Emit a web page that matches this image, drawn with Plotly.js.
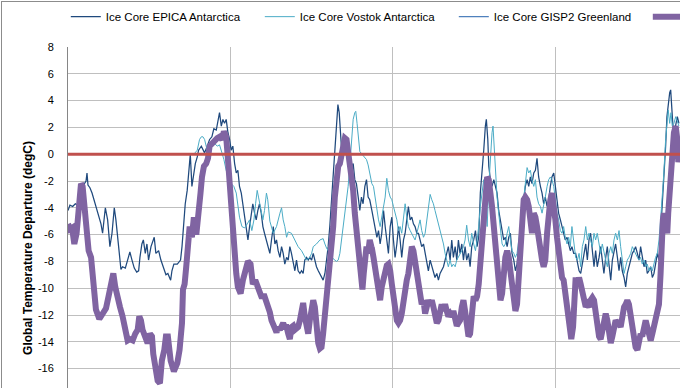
<!DOCTYPE html>
<html>
<head>
<meta charset="utf-8">
<script src="https://cdn.plot.ly/plotly-3.0.1.min.js"></script>
<style>
html,body{margin:0;padding:0;background:#fff;overflow:hidden;}
#wrap{position:relative;width:680px;height:388px;overflow:hidden;background:#fff;}
#chart{position:absolute;left:0;top:0;width:900px;height:480px;}
#frame{position:absolute;left:1px;top:1px;width:1000px;height:1000px;border-left:1px solid #8c8c8c;border-top:1px solid #8c8c8c;pointer-events:none;}
</style>
</head>
<body>
<div id="wrap"><div id="chart"></div><div id="frame"></div></div>
<script>
// Ages in thousand years (negative = before present), temperatures in degC departure
var epicaAge = [
-500.0,-498.8,-497.1,-495.5,-494.1,-492.6,-491.0,-489.9,-488.9,-488.3,-487.7,-486.5,-485.2,-484.0,-482.8,-481.1,-479.7,-478.7,-477.8,-477.0,-475.6,-474.2,-472.9,-471.5,-470.5,-469.4,-468.4,-467.4,-466.4,-464.7,-463.3,-461.9,-460.6,-459.2,-457.7,-456.5,-455.7,-454.5,-453.6,-452.4,-451.4,-450.4,-448.9,-447.5,-446.9,-445.9,-444.2,-442.8,-441.3,-439.7,
-438.5,-436.8,-436.0,-434.8,-432.7,-430.7,-429.8,-428.8,-427.8,-426.6,-425.7,-424.7,-423.7,-422.5,-421.6,-420.4,-419.6,-417.9,-416.9,-415.9,-414.3,-412.8,-411.4,-410.2,-408.7,-407.7,-406.7,-405.6,-404.6,-403.6,-402.6,-401.5,-400.5,-399.5,-398.5,-397.4,-396.4,-395.4,-394.4,-393.3,-392.3,-391.3,-390.3,-389.2,-388.2,-387.2,-386.2,-385.1,-384.1,-383.1,-382.1,-381.0,-380.0,-379.0,-378.0,-377.0,
-375.7,-374.7,-373.6,-372.6,-371.6,-370.6,-369.5,-368.5,-367.5,-366.5,-365.4,-364.4,-363.4,-362.4,-361.3,-360.3,-359.3,-358.3,-357.2,-356.2,-355.2,-354.2,-353.1,-352.1,-351.1,-350.0,-349.0,-348.0,-347.0,-345.9,-344.9,-343.9,-342.9,-341.8,-340.8,-339.8,-338.8,-337.7,-336.7,-335.7,-334.7,-333.8,-333.0,-332.2,-331.4,-330.6,-329.5,-328.5,-327.5,-326.5,-325.4,-324.4,-323.4,-322.4,-321.3,-320.3,-319.3,-318.3,-317.2,-316.2,-315.2,-314.2,
-312.9,-311.9,-310.9,-309.8,-308.8,-307.8,-306.8,-305.7,-304.7,-303.7,-302.7,-301.6,-300.6,-299.6,-298.6,-297.5,-296.5,-295.5,-294.5,-293.4,-292.4,-291.4,-290.4,-289.3,-288.3,-287.3,-286.3,-285.2,-284.2,-283.2,-282.2,-281.1,-280.1,-279.1,-278.1,-277.0,-276.0,-275.0,-274.0,-272.9,-271.9,-270.9,-269.9,-268.8,-267.8,-266.8,-265.8,-264.7,-263.7,-262.7,-261.6,-260.6,-259.6,-258.6,-257.5,-256.5,-255.5,-254.5,-253.4,-252.4,-251.4,
-250.2,-249.1,-248.1,-247.1,-246.1,-245.0,-244.0,-243.0,-242.4,-241.5,-240.9,-239.9,-238.9,-237.8,-236.8,-235.8,-234.8,-233.7,-232.7,-231.7,-230.7,-229.6,-228.6,-227.6,-226.6,-225.5,-224.5,-223.5,-222.5,-221.4,-220.4,-219.4,-218.4,-217.3,-216.3,-215.3,-214.3,-213.2,-212.2,-211.2,-210.2,-209.1,-208.1,-207.1,-206.1,-205.0,-204.0,-203.0,-202.0,-200.9,-199.9,-198.9,-197.9,-196.8,-195.8,-194.8,-193.8,-192.7,-191.7,-190.7,-189.7,-188.6,
-187.4,-186.3,-185.3,-184.3,-183.3,-182.3,-181.2,-180.2,-179.2,-178.2,-177.1,-176.1,-175.1,-174.1,-173.0,-172.0,-171.0,-170.0,-168.9,-167.9,-166.9,-165.8,-164.8,-163.8,-162.8,-161.7,-160.7,-159.7,-158.7,-157.6,-156.6,-155.6,-154.6,-153.5,-152.5,-151.5,-150.5,-149.4,-148.4,-147.4,-146.4,-145.3,-144.3,-143.3,-142.3,-141.2,-140.2,-139.2,-138.2,-137.1,-136.1,-135.1,
-134.5,-133.7,-132.8,-132.0,-131.2,-130.4,-129.5,-128.9,-128.3,-127.5,-126.7,-125.8,-124.8,-123.8
];
var epicaTemp = [
-4.2,-3.8,-3.9,-3.7,-3.8,-3.6,-3.2,-2.2,-2.0,-1.4,-2.3,-2.5,-2.9,-3.4,-3.9,-4.7,-5.2,-5.9,-5.0,-4.0,-4.9,-6.9,-5.9,-4.0,-4.9,-6.4,-7.4,-8.6,-8.4,-8.5,-7.9,-7.3,-7.9,-8.5,-8.8,-8.7,-7.7,-6.7,-6.4,-7.4,-6.7,-7.9,-6.9,-6.4,-6.2,-7.4,-7.2,-7.9,-8.4,-9.0,
-8.9,-9.4,-8.7,-8.2,-8.2,-7.9,-6.9,-5.4,-3.7,-2.7,-1.4,0.0,-2.4,-1.4,-0.7,-0.2,0.3,0.6,0.3,0.1,0.6,1.1,1.3,1.9,1.8,2.6,3.1,2.1,2.6,2.3,2.6,1.6,1.1,0.3,0.6,-0.7,-1.4,-1.2,-2.4,-2.9,-3.7,-4.7,-5.2,-6.4,-5.4,-4.7,-3.7,-4.4,-4.9,-4.2,-3.7,-4.4,-5.4,-5.9,-6.4,-6.9,
-7.4,-6.4,-5.4,-6.7,-6.4,-7.2,-7.7,-6.9,-7.4,-8.2,-7.7,-7.9,-6.9,-7.4,-8.2,-8.7,-7.9,-8.7,-8.9,-8.7,-8.9,-7.9,-7.7,-7.9,-7.7,-7.9,-7.4,-7.9,-8.4,-8.7,-8.9,-9.2,-9.4,-8.9,-7.9,-6.9,-5.4,-3.4,-1.9,0.1,2.1,3.7,3.1,1.1,0.1,0.6,0.3,1.1,0.3,-0.4,-0.9,-0.7,-1.9,-2.2,-3.2,-4.2,-3.2,-3.7,-2.4,-1.9,-3.2,-3.4,
-4.2,-4.9,-5.4,-6.2,-5.7,-6.7,-5.9,-4.2,-5.4,-6.4,-7.4,-5.4,-4.7,-6.4,-7.7,-6.7,-5.4,-6.4,-7.7,-6.4,-5.9,-4.9,-3.9,-4.9,-4.7,-5.2,-5.4,-5.9,-5.9,-6.4,-6.9,-6.7,-7.4,-7.9,-8.7,-7.9,-8.4,-8.9,-9.2,-8.9,-9.4,-8.9,-8.7,-8.4,-7.9,-7.4,-6.9,-7.9,-6.4,-7.7,-6.9,-7.9,-6.4,-7.4,-6.7,-7.9,-6.9,-7.9,-7.4,-8.4,-6.9,
-6.4,-5.7,-6.9,-6.2,-2.9,-1.4,0.3,2.1,2.6,1.1,-0.9,-1.9,-2.4,-1.9,-2.4,-2.9,-4.2,-4.9,-5.7,-6.4,-6.2,-6.9,-6.2,-5.9,-7.4,-7.9,-8.7,-8.2,-6.9,-5.9,-4.9,-3.4,-2.4,-1.9,-2.4,-1.7,-2.2,-1.4,-1.2,-0.3,-1.7,-2.4,-2.9,-3.7,-3.2,-3.9,-3.4,-2.4,-1.7,-1.4,-2.4,-3.4,-4.4,-4.9,-5.4,-5.9,-6.4,-6.2,-6.7,-7.2,-6.9,-7.4,
-7.4,-8.2,-8.7,-8.9,-8.2,-7.4,-6.7,-7.9,-6.4,-5.9,-7.4,-8.4,-7.2,-8.4,-7.7,-6.9,-7.9,-8.9,-7.7,-6.9,-8.2,-9.4,-7.9,-7.4,-6.7,-7.7,-8.7,-7.7,-8.7,-9.2,-9.9,-8.9,-8.4,-7.7,-7.4,-7.2,-6.9,-7.4,-7.9,-6.9,-7.7,-8.4,-7.9,-8.9,-8.7,-8.4,-9.2,-8.9,-8.2,-7.4,-7.9,-5.9,
-4.4,-2.9,-1.4,0.6,2.8,3.8,4.6,4.8,3.6,2.1,1.6,2.3,2.8,2.3
];

var vostokAge = [
-422.5,-420.4,-419.0,-417.9,-416.9,-415.9,-414.3,-412.8,-411.4,-409.7,-408.1,-406.7,-405.2,-404.0,-402.6,-401.1,-399.5,-397.9,-396.4,-395.4,-394.4,-392.9,-391.3,-389.6,-388.2,-386.8,-385.5,-384.5,-383.5,-382.7,-381.4,-380.0,-379.0,-377.8,-377.0,
-375.7,-373.6,-371.6,-369.5,-368.5,-367.5,-366.5,-365.4,-364.4,-362.4,-360.3,-358.3,-356.2,-354.2,-353.1,-351.1,-350.0,-349.0,-347.0,-344.9,-342.9,-341.8,-340.8,-338.8,-336.7,-334.7,-333.6,-332.6,-331.6,-330.6,-329.5,-328.5,-327.5,-326.5,-325.4,-324.4,-323.4,-322.8,-322.0,-321.1,-320.3,-318.3,-316.2,-315.2,-314.2,
-312.9,-311.9,-310.9,-309.8,-308.8,-307.8,-306.8,-305.7,-304.7,-303.7,-302.7,-301.6,-300.6,-299.6,-298.6,-297.5,-296.5,-295.5,-294.5,-293.4,-292.4,-291.4,-290.4,-289.3,-288.3,-287.3,-286.3,-285.2,-284.2,-283.2,-282.2,-281.1,-280.1,-279.1,-278.1,-277.0,-276.0,-275.0,-274.0,-272.9,-271.9,-270.9,-269.9,-268.8,-267.8,-266.8,-265.8,-264.7,-263.7,-262.7,-261.6,-260.6,-259.6,-258.6,-257.5,-256.5,-255.5,-254.5,-253.4,-252.4,-251.4,
-250.2,-249.1,-248.1,-247.1,-246.1,-245.0,-244.0,-243.0,-241.9,-240.9,-239.9,-238.9,-238.3,-237.4,-236.8,-235.8,-234.8,-233.7,-232.7,-231.7,-230.7,-229.6,-228.6,-227.6,-226.6,-225.5,-224.5,-223.5,-222.5,-221.4,-220.4,-219.4,-218.4,-217.3,-216.3,-215.3,-214.3,-213.2,-212.2,-211.2,-210.2,-209.1,-208.1,-207.1,-206.1,-205.0,-204.0,-203.0,-202.0,-200.9,-199.9,-198.9,-197.9,-196.8,-195.8,-194.8,-193.8,-192.7,-191.7,-190.7,-189.7,-188.6,
-187.4,-186.3,-185.3,-184.3,-183.3,-182.3,-181.2,-180.2,-179.2,-178.2,-177.1,-176.1,-175.1,-174.1,-173.0,-172.0,-171.0,-170.0,-168.9,-167.9,-166.9,-165.8,-164.8,-163.8,-162.8,-161.7,-160.7,-159.7,-158.7,-157.6,-156.6,-155.6,-154.6,-153.5,-152.5,-151.5,-150.5,-149.4,-148.4,-147.4,-146.4,-145.3,-144.3,-143.3,-142.3,-141.2,-140.2,-139.2,-138.2,-137.1,-136.1,-135.1,
-134.1,-133.1,-132.0,-131.2,-130.4,-129.5,-128.7,-127.9,-126.9,-125.8,-124.8,-123.8
];
var vostokTemp = [
0.0,0.3,1.1,1.3,1.3,1.1,0.3,0.3,0.6,0.8,0.6,0.7,0.1,-0.4,-1.2,-1.9,-2.2,-2.4,-2.9,-3.7,-4.7,-5.4,-5.5,-5.2,-4.9,-5.7,-4.9,-3.7,-2.7,-3.2,-3.9,-4.9,-4.2,-2.9,-3.4,
-5.0,-5.9,-5.4,-4.4,-4.0,-4.9,-5.4,-6.2,-5.8,-5.9,-6.4,-6.9,-7.2,-7.7,-7.9,-7.7,-7.4,-6.9,-6.7,-6.4,-6.3,-6.7,-7.0,-7.4,-7.8,-8.0,-7.9,-7.4,-6.4,-5.4,-4.4,-3.4,-2.4,-0.9,1.1,2.6,3.1,3.2,2.3,0.8,0.2,-0.1,-0.4,-0.8,-1.4,
-2.2,-2.4,-3.2,-4.4,-4.9,-5.4,-4.7,-3.9,-3.2,-1.8,-2.7,-3.2,-3.4,-3.9,-4.4,-4.9,-5.7,-5.4,-5.9,-4.9,-3.7,-4.7,-5.4,-5.7,-5.9,-6.2,-6.4,-5.9,-5.4,-4.9,-5.7,-6.2,-5.9,-4.9,-3.9,-3.0,-3.4,-3.7,-4.2,-4.7,-5.2,-5.7,-6.2,-6.7,-7.4,-7.9,-8.4,-7.9,-8.4,-8.2,-8.4,-7.9,-7.7,-7.4,-7.2,-6.9,-6.4,-5.3,-6.4,-6.9,-5.9,
-6.7,-7.2,-6.4,-5.4,-3.9,-2.9,-1.9,-3.4,-5.4,-2.4,0.1,1.6,2.1,0.3,-1.4,-3.2,-4.4,-5.9,-6.7,-6.9,-6.7,-5.9,-5.4,-6.4,-7.2,-7.4,-7.7,-7.4,-6.2,-5.4,-4.4,-3.2,-1.9,-1.0,-1.4,-1.2,-1.9,-2.4,-1.9,-3.2,-3.7,-3.9,-4.4,-3.9,-3.2,-2.4,-1.9,-1.7,-1.9,-2.4,-3.4,-4.4,-4.9,-5.7,-5.9,-5.4,-6.2,-6.7,-6.2,-6.9,-5.4,-6.4,
-7.7,-7.9,-7.4,-8.4,-6.9,-6.4,-5.4,-6.4,-5.9,-6.4,-6.9,-5.9,-6.4,-5.9,-6.9,-7.4,-6.7,-7.4,-7.9,-8.4,-7.4,-6.9,-7.4,-6.4,-5.9,-6.4,-5.7,-6.9,-7.9,-8.9,-8.4,-7.9,-7.7,-7.4,-6.9,-7.2,-7.4,-7.7,-7.9,-7.7,-8.2,-7.9,-8.4,-8.2,-8.7,-8.4,-8.7,-8.2,-7.7,-7.4,-6.4,-4.9,
-3.4,-1.4,1.1,2.5,3.3,2.3,3.1,2.1,2.3,2.8,2.5,2.1
];

// Greenland record lies beyond the visible (cropped) part of the chart: no readable values
var gispAge = [null];
var gispTemp = [null];

var globalAge = [
-500.0,-498.8,-497.5,-496.1,-494.7,-493.4,-492.0,-491.0,-489.9,-488.5,-487.3,-485.8,-484.8,-483.8,-482.8,-480.7,-478.7,-476.6,-475.0,-473.5,-472.1,-470.9,-469.4,-468.0,-466.4,-464.7,-463.3,-461.9,-460.2,-458.6,-457.1,-456.1,-455.1,-454.1,-452.4,-451.0,-449.5,-448.3,-447.5,-446.3,-444.8,-443.4,-442.2,-440.7,-439.7,
-438.5,-436.8,-434.8,-432.7,-431.3,-429.8,-429.2,-428.2,-427.2,-426.2,-425.1,-423.7,-422.5,-421.0,-420.4,-419.6,-418.4,-417.5,-416.3,-414.9,-413.8,-412.8,-411.4,-409.7,-408.1,-406.7,-405.2,-404.0,-402.6,-401.5,-400.5,-399.5,-398.5,-397.4,-396.4,-395.4,-393.7,-392.3,-390.9,-389.2,-387.6,-386.2,-384.7,-383.1,-381.0,-379.0,-377.3,
-375.7,-374.7,-373.6,-372.6,-371.6,-370.6,-369.5,-368.5,-367.5,-366.5,-365.4,-364.4,-363.4,-362.4,-361.3,-360.3,-359.3,-358.3,-357.2,-356.2,-355.2,-354.2,-353.1,-352.1,-351.1,-350.0,-349.0,-348.0,-347.0,-345.9,-344.9,-343.9,-342.9,-341.8,-340.8,-339.8,-338.8,-337.7,-336.7,-335.7,-334.7,-333.6,-332.6,-331.6,-330.6,-329.5,-328.5,-327.5,-326.5,-325.4,-324.4,-323.4,-322.4,-321.3,-320.3,-319.3,-318.7,-317.9,-317.2,-316.2,-315.2,-314.2,-313.2,
-312.9,-311.9,-310.9,-309.8,-308.8,-307.8,-306.8,-305.7,-304.7,-303.7,-302.7,-301.6,-300.6,-299.6,-298.6,-297.5,-296.5,-295.5,-294.5,-293.4,-292.4,-291.4,-290.4,-289.3,-288.3,-287.3,-286.3,-285.2,-284.2,-283.2,-282.2,-281.1,-280.1,-279.1,-278.1,-277.0,-276.0,-275.0,-274.0,-272.9,-271.9,-270.9,-269.9,-268.8,-267.8,-266.8,-265.8,-264.7,-263.7,-262.7,-261.6,-260.6,-259.6,-258.6,-257.5,-256.5,-255.5,-254.5,-253.4,-252.4,-251.4,-250.4,
-250.2,-249.1,-248.1,-247.1,-246.1,-245.0,-244.0,-243.0,-241.9,-240.9,-239.9,-238.9,-237.8,-236.8,-235.8,-234.8,-233.7,-232.7,-231.7,-230.7,-229.6,-228.6,-227.6,-226.6,-225.5,-224.5,-223.5,-222.5,-221.4,-220.4,-219.4,-218.4,-217.3,-216.3,-215.3,-214.3,-213.2,-212.2,-211.2,-210.2,-209.1,-208.1,-207.1,-206.1,-205.0,-204.0,-203.0,-202.0,-200.9,-199.9,-198.9,-197.9,-196.8,-195.8,-194.8,-193.8,-192.7,-191.7,-190.7,-190.1,-189.0,-188.2,
-187.4,-186.3,-185.3,-184.3,-183.3,-182.3,-181.2,-180.2,-179.2,-178.2,-177.1,-176.1,-175.1,-174.1,-173.0,-172.0,-171.0,-170.0,-168.9,-167.9,-166.9,-165.8,-164.8,-163.8,-162.8,-161.7,-160.7,-159.7,-158.7,-157.6,-156.6,-155.6,-154.6,-153.5,-152.5,-151.5,-150.5,-149.4,-148.4,-147.4,-146.4,-145.3,-144.3,-143.3,-142.3,-141.2,-140.2,-139.2,-138.2,-137.1,-136.1,-135.1,
-134.5,-133.7,-133.1,-132.0,-131.0,-130.4,-129.5,-128.7,-127.9,-126.9,-125.8,-124.8,-124.2,-123.4
];
var globalTemp = [
-5.2,-5.6,-5.5,-6.7,-5.9,-3.9,-2.2,-2.4,-3.9,-5.4,-7.2,-7.7,-8.9,-10.4,-11.6,-12.3,-11.9,-11.5,-10.6,-9.4,-8.9,-9.9,-10.9,-11.4,-12.1,-13.1,-13.9,-13.8,-13.9,-13.4,-13.1,-12.1,-12.4,-13.1,-13.6,-14.1,-13.4,-13.6,-14.9,-15.9,-16.9,-17.1,-15.4,-14.6,-13.6,
-13.6,-15.4,-16.2,-15.6,-14.6,-12.6,-10.1,-9.7,-8.4,-6.2,-5.4,-6.2,-4.7,-6.0,-4.9,-3.7,-2.9,-1.7,-0.9,-0.7,-0.3,0.6,0.8,1.1,1.2,1.3,1.1,1.7,1.3,-0.4,-2.2,-4.2,-6.2,-7.7,-8.9,-9.9,-10.4,-9.4,-8.7,-8.0,-8.2,-9.7,-9.4,-10.1,-10.6,-10.6,-11.1,
-11.8,-12.4,-12.9,-13.0,-13.3,-12.9,-13.1,-12.9,-12.6,-12.9,-12.9,-13.4,-13.8,-12.9,-12.8,-13.1,-13.0,-12.9,-12.4,-11.9,-11.1,-12.1,-12.9,-13.4,-12.4,-11.4,-10.9,-11.4,-12.9,-14.1,-14.5,-14.4,-13.4,-11.9,-10.6,-9.4,-8.7,-7.4,-5.4,-3.2,-1.4,-0.9,-0.7,0.1,0.8,1.2,1.1,0.3,-0.4,-1.4,-2.7,-4.4,-5.9,-6.9,-7.9,-9.7,-10.1,-8.9,-7.4,-6.9,-7.4,-6.4,-6.9,
-7.0,-7.7,-8.7,-9.7,-10.4,-10.9,-9.9,-9.2,-8.7,-8.3,-8.2,-8.7,-9.7,-10.7,-11.4,-12.4,-12.6,-12.4,-11.9,-10.9,-9.7,-9.4,-8.9,-7.7,-6.9,-7.2,-7.9,-8.9,-9.9,-10.7,-11.2,-10.9,-11.9,-11.4,-10.9,-11.2,-10.9,-11.4,-12.1,-12.6,-12.4,-11.9,-11.2,-11.7,-11.2,-11.7,-12.1,-11.9,-12.1,-11.7,-12.4,-12.8,-12.6,-12.4,-11.4,-10.9,-11.7,-12.6,-13.6,-13.4,-11.9,-10.7,
-10.6,-10.9,-10.6,-9.7,-7.9,-5.9,-3.9,-2.4,-1.7,-1.9,-2.7,-3.9,-5.4,-6.9,-8.9,-10.4,-10.9,-10.4,-8.9,-7.7,-7.2,-7.7,-8.7,-9.9,-11.2,-11.7,-11.2,-9.4,-6.9,-4.9,-3.4,-3.2,-3.4,-3.9,-5.7,-5.9,-4.4,-4.7,-5.4,-6.4,-7.2,-7.9,-8.4,-7.9,-5.9,-4.4,-3.4,-2.9,-3.7,-4.9,-6.2,-7.4,-8.4,-9.2,-9.4,-10.2,-11.4,-12.4,-13.4,-13.8,-12.9,-10.9,
-9.2,-9.9,-9.2,-9.7,-10.4,-10.9,-11.4,-11.2,-11.4,-10.9,-10.7,-10.9,-11.9,-12.9,-13.6,-13.8,-13.1,-12.4,-11.9,-12.4,-13.4,-14.1,-13.6,-12.9,-12.4,-12.6,-12.6,-12.9,-12.1,-11.4,-11.2,-10.9,-11.2,-12.1,-13.1,-13.9,-14.4,-14.6,-13.9,-13.4,-13.6,-13.1,-12.4,-12.9,-13.6,-13.9,-13.4,-12.9,-12.4,-11.9,-11.2,-8.9,
-6.4,-4.9,-4.4,-5.4,-5.9,-4.4,-2.7,-0.9,0.6,1.6,2.1,1.1,-0.6,0.1
];

var seriesNames = ['Ice Core EPICA Antarctica', 'Ice Core Vostok Antarctica', 'Ice Core GISP2 Greenland', 'Global Average Estimate'];
var yTickVals = [-22,-20,-18,-16,-14,-12,-10,-8,-6,-4,-2,0,2,4,6,8];
var yTickText = ['','','','-16','-14','-12','-10','-8','-6','-4','-2','0','2','4','6','8'];

var traces = [
  {x: epicaAge, y: epicaTemp, name: seriesNames[0], type: 'scatter', mode: 'lines', line: {color: '#1F497D', width: 1.25}},
  {x: vostokAge, y: vostokTemp, name: seriesNames[1], type: 'scatter', mode: 'lines', line: {color: '#4BACC6', width: 1}},
  {x: gispAge, y: gispTemp, name: seriesNames[2], type: 'scatter', mode: 'lines', line: {color: '#4F81BD', width: 1.25}},
  {x: globalAge, y: globalTemp, name: seriesNames[3], type: 'scatter', mode: 'lines', line: {color: '#8064A2', width: 6}}
];

var layout = {
  width: 900, height: 480,
  margin: {l: 68, r: 19.5, t: 47.3, b: 31.45, pad: 0, autoexpand: false},
  paper_bgcolor: '#ffffff', plot_bgcolor: '#ffffff',
  font: {family: 'Liberation Sans, Arial, sans-serif', size: 11, color: '#000000'},
  showlegend: true,
  legend: {orientation: 'h', x: -0.0027, xanchor: 'left', y: 1.0755, yanchor: 'middle',
           font: {size: 11.5, color: '#000000'}, entrywidth: 149, entrywidthmode: 'pixels',
           bgcolor: 'rgba(0,0,0,0)', traceorder: 'normal'},
  xaxis: {range: [-500, 0], tick0: 0, dtick: 100, showgrid: true, gridcolor: '#BFBFBF', gridwidth: 1,
          showticklabels: false, ticks: '', zeroline: false, showline: true, linecolor: '#868686', fixedrange: true},
  yaxis: {range: [-22, 8], tickmode: 'array', tickvals: yTickVals, ticktext: yTickText,
          showgrid: true, gridcolor: '#BFBFBF', gridwidth: 1, zeroline: false,
          showline: true, linecolor: '#868686', linewidth: 1, ticks: '', ticklabelstandoff: 11,
          tickfont: {size: 11, color: '#000000'}, fixedrange: true,
          title: {text: '<b>Global Temperature Departure (degC)</b>', font: {size: 12, color: '#000000'}, standoff: 2}},
  shapes: [{type: 'line', xref: 'paper', x0: 0, x1: 1, yref: 'y', y0: 0, y1: 0,
            line: {color: '#C0504D', width: 3}, layer: 'above'}]
};

Plotly.newPlot('chart', traces, layout, {staticPlot: true, displayModeBar: false});
</script>
</body>
</html>
